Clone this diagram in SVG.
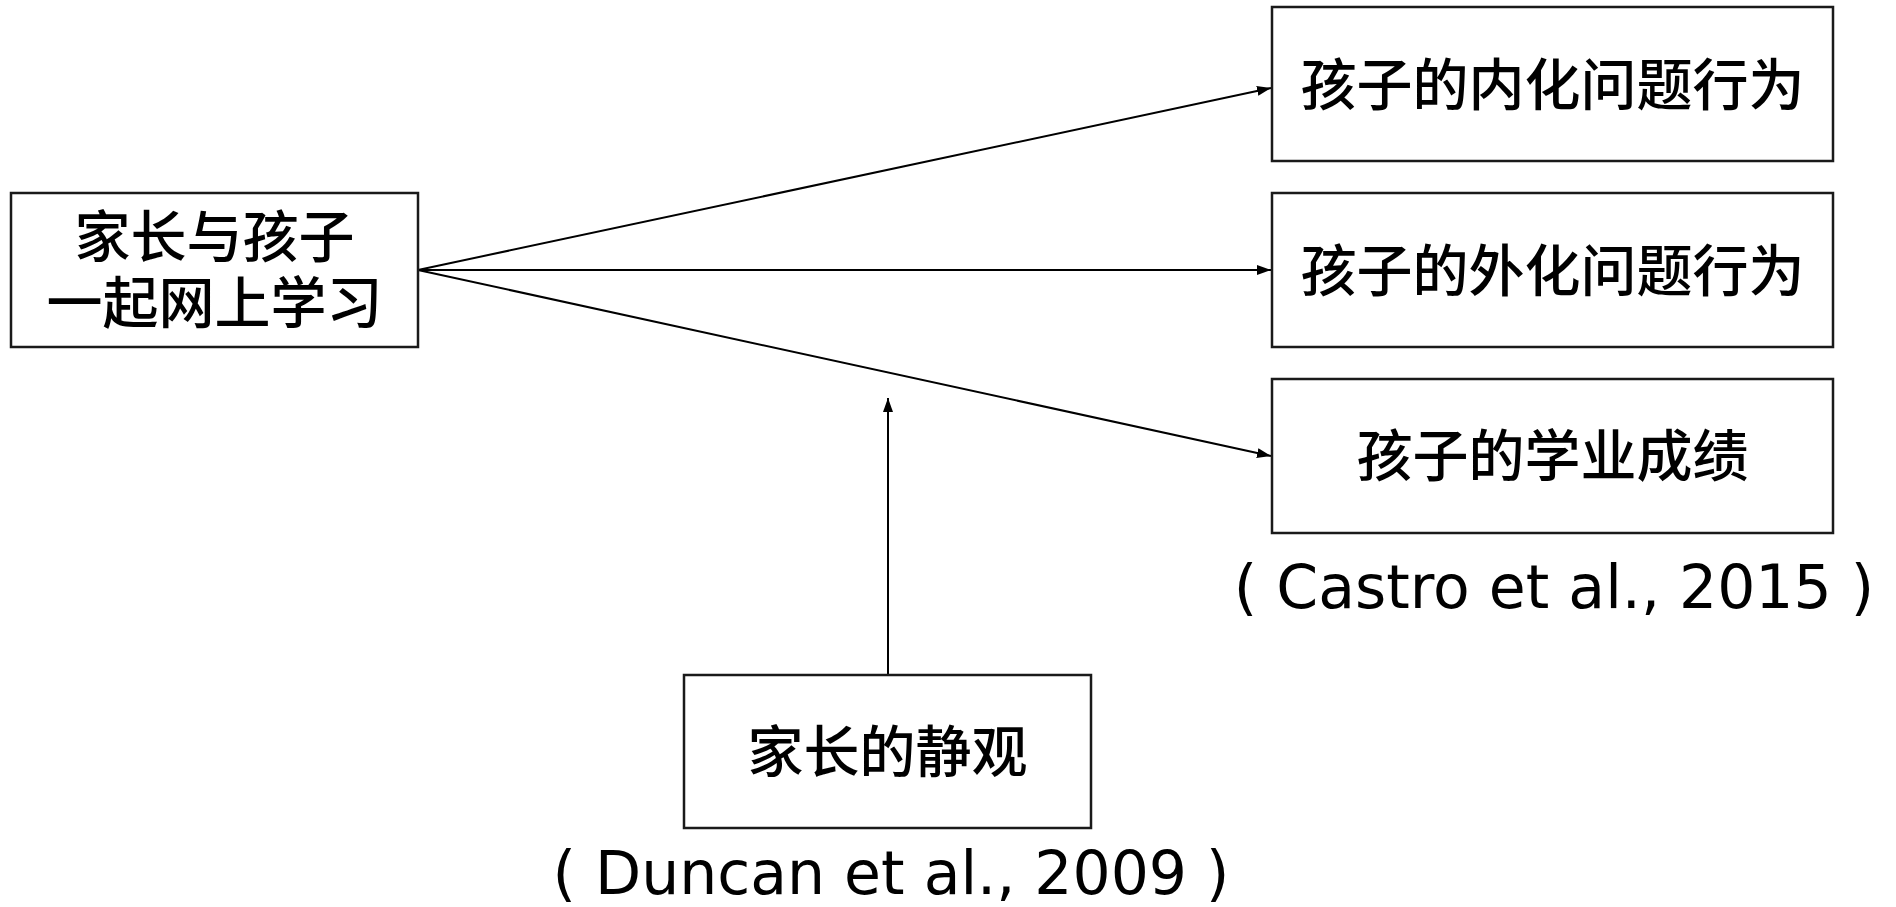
<svg xmlns="http://www.w3.org/2000/svg" width="1896" height="907" viewBox="0 0 1896 907">
<style>
.box{fill:#fff;stroke:#1a1a1a;stroke-width:2.5}
.cjk{font-family:"Noto Sans CJK SC","Noto Sans",sans-serif;font-size:56px;font-weight:500;fill:#000;text-anchor:middle}
.ref{font-family:"DejaVu Sans","Liberation Sans",sans-serif;font-size:60px;fill:#000;text-anchor:middle}
.edge{stroke:#000;stroke-width:2;fill:none}
</style>
<defs>
<marker id="arr" markerWidth="14" markerHeight="10" refX="14" refY="5" orient="auto" markerUnits="userSpaceOnUse">
<path d="M0,0 L14,5 L0,10 Z" fill="#000"/>
</marker>
</defs>
<g id="connectors">
<line class="edge" x1="418" y1="270" x2="1271" y2="88" marker-end="url(#arr)"/>
<line class="edge" x1="418" y1="270" x2="1271" y2="270" marker-end="url(#arr)"/>
<line class="edge" x1="418" y1="270" x2="1271" y2="456" marker-end="url(#arr)"/>
<line class="edge" x1="888" y1="675" x2="888" y2="398" marker-end="url(#arr)"/>
</g>
<g id="node-source">
<rect class="box" x="11" y="193" width="407" height="154"/>
<text class="cjk"><tspan x="214.5" y="257">家长与孩子</tspan><tspan x="214.5" y="323">一起网上学习</tspan></text>
</g>
<g id="node-internal">
<rect class="box" x="1272" y="7" width="561" height="154"/>
<text class="cjk" x="1552.5" y="105">孩子的内化问题行为</text>
</g>
<g id="node-external">
<rect class="box" x="1272" y="193" width="561" height="154"/>
<text class="cjk" x="1552.5" y="291">孩子的外化问题行为</text>
</g>
<g id="node-academic">
<rect class="box" x="1272" y="379" width="561" height="154"/>
<text class="cjk" x="1552.5" y="476">孩子的学业成绩</text>
</g>
<g id="node-moderator">
<rect class="box" x="684" y="675" width="407" height="153"/>
<text class="cjk" x="887.5" y="772">家长的静观</text>
</g>
<g id="labels">
<text class="ref" x="1554" y="608">( Castro et al., 2015 )</text>
<text class="ref" x="891" y="894">( Duncan et al., 2009 )</text>
</g>
</svg>
